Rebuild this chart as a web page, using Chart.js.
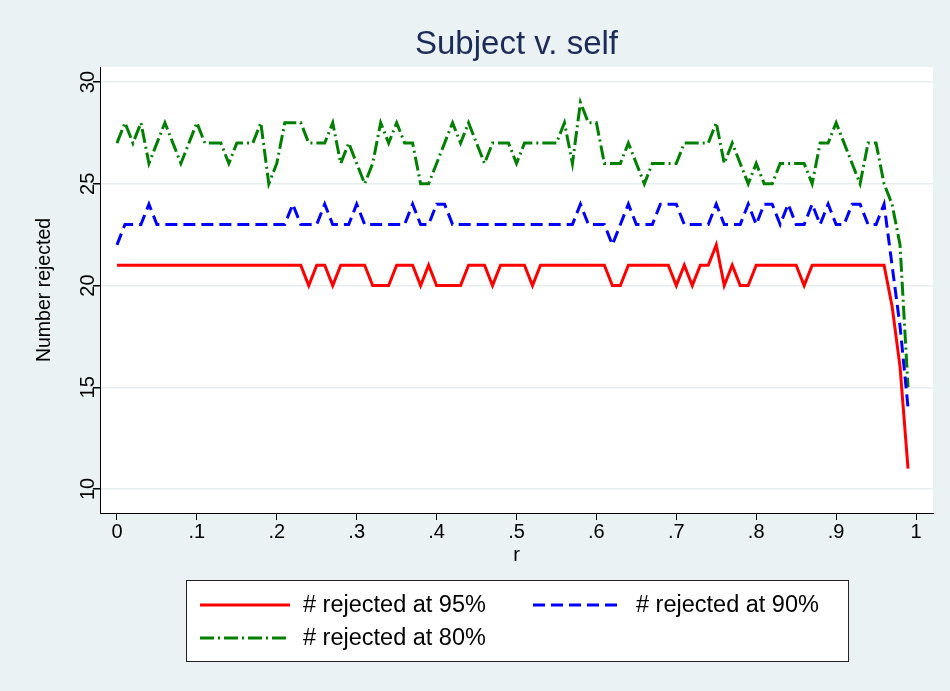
<!DOCTYPE html>
<html>
<head>
<meta charset="utf-8">
<title>Subject v. self</title>
<script src="https://cdn.jsdelivr.net/npm/chart.js@4.4.0/dist/chart.umd.min.js"></script>
<style>
  html, body { margin: 0; padding: 0; background: #eaf2f3; }
  #wrap { width: 950px; height: 691px; }
</style>
</head>
<body>
<div id="wrap"><canvas id="rejChart" width="950" height="691"></canvas></div>
<script>
// r grid (x axis)
const rValues = [
  0.00, 0.01, 0.02, 0.03, 0.04, 0.05, 0.06, 0.07, 0.08, 0.09,
  0.10, 0.11, 0.12, 0.13, 0.14, 0.15, 0.16, 0.17, 0.18, 0.19,
  0.20, 0.21, 0.22, 0.23, 0.24, 0.25, 0.26, 0.27, 0.28, 0.29,
  0.30, 0.31, 0.32, 0.33, 0.34, 0.35, 0.36, 0.37, 0.38, 0.39,
  0.40, 0.41, 0.42, 0.43, 0.44, 0.45, 0.46, 0.47, 0.48, 0.49,
  0.50, 0.51, 0.52, 0.53, 0.54, 0.55, 0.56, 0.57, 0.58, 0.59,
  0.60, 0.61, 0.62, 0.63, 0.64, 0.65, 0.66, 0.67, 0.68, 0.69,
  0.70, 0.71, 0.72, 0.73, 0.74, 0.75, 0.76, 0.77, 0.78, 0.79,
  0.80, 0.81, 0.82, 0.83, 0.84, 0.85, 0.86, 0.87, 0.88, 0.89,
  0.90, 0.91, 0.92, 0.93, 0.94, 0.95, 0.96, 0.97, 0.98, 0.99
];

const rejected95 = [
  21, 21, 21, 21, 21, 21, 21, 21, 21, 21,
  21, 21, 21, 21, 21, 21, 21, 21, 21, 21,
  21, 21, 21, 21, 20, 21, 21, 20, 21, 21,
  21, 21, 20, 20, 20, 21, 21, 21, 20, 21,
  20, 20, 20, 20, 21, 21, 21, 20, 21, 21,
  21, 21, 20, 21, 21, 21, 21, 21, 21, 21,
  21, 21, 20, 20, 21, 21, 21, 21, 21, 21,
  20, 21, 20, 21, 21, 22, 20, 21, 20, 20,
  21, 21, 21, 21, 21, 21, 20, 21, 21, 21,
  21, 21, 21, 21, 21, 21, 21, 19, 16, 11
];

const rejected90 = [
  22, 23, 23, 23, 24, 23, 23, 23, 23, 23,
  23, 23, 23, 23, 23, 23, 23, 23, 23, 23,
  23, 23, 24, 23, 23, 23, 24, 23, 23, 23,
  24, 23, 23, 23, 23, 23, 23, 24, 23, 23,
  24, 24, 23, 23, 23, 23, 23, 23, 23, 23,
  23, 23, 23, 23, 23, 23, 23, 23, 24, 23,
  23, 23, 22, 23, 24, 23, 23, 23, 24, 24,
  24, 23, 23, 23, 23, 24, 23, 23, 23, 24,
  23, 24, 24, 23, 24, 23, 23, 24, 23, 24,
  23, 23, 24, 24, 23, 23, 24, 21, 18, 14
];

const rejected80 = [
  27, 28, 27, 28, 26, 27, 28, 27, 26, 27,
  28, 27, 27, 27, 26, 27, 27, 27, 28, 25,
  26, 28, 28, 28, 27, 27, 27, 28, 26, 27,
  26, 25, 26, 28, 27, 28, 27, 27, 25, 25,
  26, 27, 28, 27, 28, 27, 26, 27, 27, 27,
  26, 27, 27, 27, 27, 27, 28, 26, 29, 28,
  28, 26, 26, 26, 27, 26, 25, 26, 26, 26,
  26, 27, 27, 27, 27, 28, 26, 27, 26, 25,
  26, 25, 25, 26, 26, 26, 26, 25, 27, 27,
  28, 27, 26, 25, 27, 27, 25, 24, 22, 15
];

const seriesNames = ['# rejected at 95%', '# rejected at 90%', '# rejected at 80%'];
const yTicks = [10, 15, 20, 25, 30];
const xTicks = [0, 0.1, 0.2, 0.3, 0.4, 0.5, 0.6, 0.7, 0.8, 0.9, 1];
const xTickLabels = ['0', '.1', '.2', '.3', '.4', '.5', '.6', '.7', '.8', '.9', '1'];

const FONT = '"Liberation Sans", Arial, Helvetica, sans-serif';
const BG = '#eaf2f3';

function pairs(ys) {
  return ys.map((y, i) => ({x: rValues[i], y: y}));
}

// page background + white plot region
const backdrop = {
  id: 'backdrop',
  beforeDraw(chart) {
    const {ctx, chartArea: a} = chart;
    ctx.save();
    ctx.fillStyle = BG;
    ctx.fillRect(0, 0, chart.width, chart.height);
    ctx.fillStyle = '#ffffff';
    ctx.fillRect(a.left, a.top, a.right - a.left, a.bottom - a.top);
    ctx.restore();
  }
};

// stata style y labels, turned on their side
const sideLabels = {
  id: 'sideLabels',
  afterDraw(chart) {
    const {ctx} = chart;
    const y = chart.scales.y;
    ctx.save();
    ctx.fillStyle = '#000';
    ctx.font = '20px ' + FONT;
    ctx.textAlign = 'center';
    ctx.textBaseline = 'middle';
    yTicks.forEach(v => {
      ctx.save();
      ctx.translate(y.right - 12, y.getPixelForValue(v));
      ctx.rotate(-Math.PI / 2);
      ctx.fillText(String(v), 0, 0);
      ctx.restore();
    });
    ctx.restore();
  }
};

// boxed legend, two columns
const boxLegend = {
  id: 'boxLegend',
  afterDraw(chart) {
    const {ctx} = chart;
    const box = {x: 186, y: 580, w: 662, h: 81};
    const slots = [{x: 200, y: 605}, {x: 533, y: 605}, {x: 200, y: 638}];
    ctx.save();
    ctx.fillStyle = '#ffffff';
    ctx.fillRect(box.x, box.y, box.w, box.h);
    ctx.strokeStyle = '#222';
    ctx.lineWidth = 1;
    ctx.strokeRect(box.x + 0.5, box.y + 0.5, box.w, box.h);
    chart.data.datasets.forEach((ds, i) => {
      const s = slots[i];
      ctx.save();
      ctx.strokeStyle = ds.borderColor;
      ctx.lineWidth = ds.borderWidth;
      ctx.setLineDash(ds.borderDash || []);
      ctx.beginPath();
      ctx.moveTo(s.x, s.y);
      ctx.lineTo(s.x + 90, s.y);
      ctx.stroke();
      ctx.restore();
      ctx.fillStyle = '#000';
      ctx.font = '23.5px ' + FONT;
      ctx.textAlign = 'left';
      ctx.textBaseline = 'middle';
      ctx.fillText(ds.label, s.x + 103, s.y + 1);
    });
    ctx.restore();
  }
};

const ctx = document.getElementById('rejChart').getContext('2d');

new Chart(ctx, {
  type: 'line',
  data: {
    datasets: [{
      label: seriesNames[0],
      data: pairs(rejected95),
      borderColor: '#ff0000',
      borderWidth: 3
    }, {
      label: seriesNames[1],
      data: pairs(rejected90),
      borderColor: '#0000ff',
      borderWidth: 3,
      borderDash: [12, 6]
    }, {
      label: seriesNames[2],
      data: pairs(rejected80),
      borderColor: '#008000',
      borderWidth: 3,
      borderDash: [14, 4, 2, 4]
    }]
  },
  options: {
    responsive: false,
    devicePixelRatio: 1,
    animation: false,
    elements: {
      point: {radius: 0, hoverRadius: 0},
      line: {tension: 0, fill: false}
    },
    layout: {
      padding: {top: 0, left: 0, right: 17, bottom: 121}
    },
    plugins: {
      legend: {display: false},
      tooltip: {enabled: false},
      title: {
        display: true,
        text: 'Subject v. self',
        fullSize: false,
        color: '#1c2b58',
        font: {family: FONT, size: 33, weight: 'normal'},
        padding: {top: 25, bottom: 2.4}
      }
    },
    scales: {
      x: {
        type: 'linear',
        position: 'bottom',
        min: -0.02125,
        max: 1.02125,
        bounds: 'data',
        afterBuildTicks: s => { s.ticks = xTicks.map(v => ({value: v})); },
        afterFit: s => { s.height = 57; },
        ticks: {
          callback: (v, i) => xTickLabels[i],
          color: '#000',
          font: {family: FONT, size: 20},
          padding: 0,
          maxRotation: 0,
          autoSkip: false
        },
        grid: {drawOnChartArea: false, drawTicks: true, tickLength: 7, tickColor: '#000'},
        border: {display: true, color: '#000', width: 1},
        title: {
          display: true,
          text: 'r',
          color: '#000',
          font: {family: FONT, size: 20},
          padding: {top: 0, bottom: 3}
        }
      },
      y: {
        type: 'linear',
        position: 'left',
        min: 8.82,
        max: 30.74,
        bounds: 'data',
        afterBuildTicks: s => { s.ticks = yTicks.map(v => ({value: v})); },
        afterFit: s => { s.width = 100; },
        ticks: {display: false},
        grid: {color: '#e6eef0', lineWidth: 1.5, drawTicks: true, tickLength: 7, tickColor: '#000'},
        border: {display: true, color: '#000', width: 1},
        title: {
          display: true,
          text: 'Number rejected',
          color: '#000',
          font: {family: FONT, size: 19.5},
          padding: {top: 33, bottom: 0}
        }
      }
    }
  },
  plugins: [backdrop, sideLabels, boxLegend]
});
</script>
</body>
</html>
